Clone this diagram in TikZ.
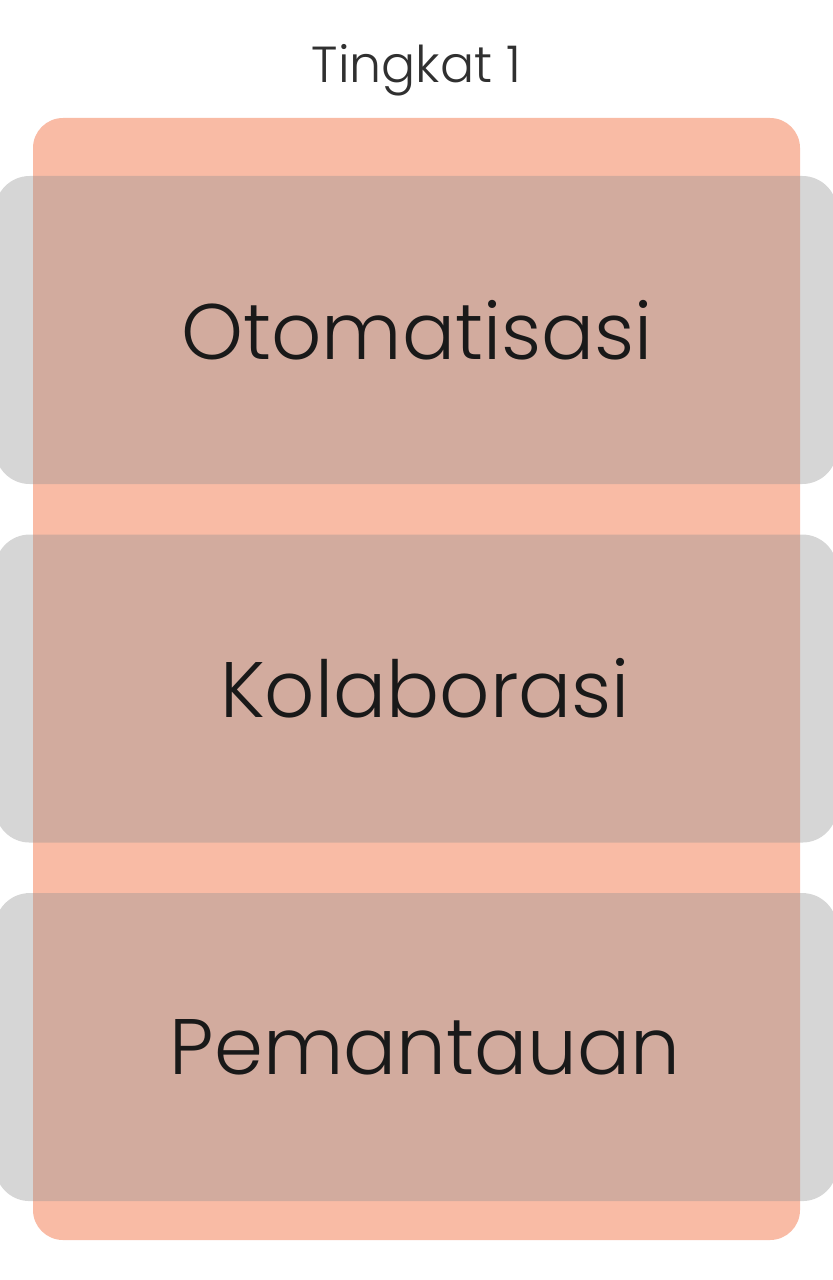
\documentclass[tikz,border=0pt]{standalone}
\usepackage{fontspec}
\newfontfamily\pop{Poppins Light}
\usetikzlibrary{positioning}
\definecolor{salmon}{RGB}{249,187,165}
\definecolor{rowgray}{RGB}{147,147,147}
\definecolor{ink}{RGB}{25,25,25}
\begin{document}
\begin{tikzpicture}[x=0.75pt,y=0.75pt,yscale=-1,xscale=1,
	column/.style={fill=salmon,rounded corners=22.5pt,minimum width=575.25pt,minimum height=841.5pt,inner sep=0pt},
	row/.style={fill=rowgray,fill opacity=0.38,rounded corners=26pt,minimum width=631.5pt,minimum height=231pt,inner sep=0pt},
	rowtext/.style={inner sep=0pt,text=ink,font=\pop\fontsize{59}{68}\selectfont},
	title/.style={inner sep=0.75pt,text=ink!90,font=\pop\fontsize{38}{45}\selectfont},
	node distance=37.5pt]
	\useasboundingbox (0,0) rectangle (832,1280);
	\node [column] (col) at (416.5,679) {};
	\node [row] (oto) at (416,330) {};
	\node [row,below=of oto] (kol) {};
	\node [row,below=of kol] (pem) {};
	\node [rowtext] (otot) at ([xshift=0.75pt]oto.center) {Otomatisasi};
	\node [rowtext] (kolt) at ([xshift=6.75pt]kol.center) {Kolaborasi};
	\node [rowtext] (pemt) at ([xshift=6.75pt]pem.center) {Pemantauan};
	\node [title,anchor=base] (tk) at (416.5,83) {Tingkat 1};
\end{tikzpicture}
\end{document}
